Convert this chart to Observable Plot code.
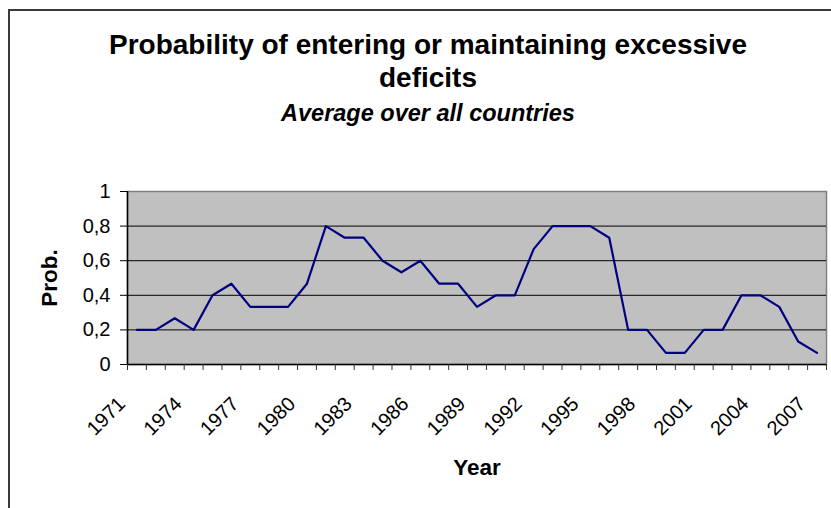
<!DOCTYPE html>
<html><head><meta charset="utf-8">
<script src="https://cdn.jsdelivr.net/npm/d3@7"></script>
<script src="https://cdn.jsdelivr.net/npm/@observablehq/plot@0.6"></script>
<style>
body{margin:0;background:#fff;}
#wrap{position:relative;width:831px;height:508px;overflow:hidden;font-family:"Liberation Sans",Arial,sans-serif;background:#fff;}
#frame{position:absolute;left:8px;top:9px;width:900px;height:600px;border-left:2px solid #3a3a3a;border-top:2px solid #3a3a3a;}
.t{position:absolute;left:8px;width:840px;text-align:center;color:#000;}
#chart{position:absolute;left:0;top:0;}
</style></head><body>
<div id="wrap">
<div id="frame"></div>
<div id="chart"></div>
<div class="t" style="top:28px;font-size:28px;font-weight:bold;line-height:33px;">Probability of entering or maintaining excessive<br>deficits</div>
<div class="t" style="top:99px;font-size:23.5px;line-height:28px;font-weight:bold;font-style:italic;">Average over all countries</div>
</div>
<script>
const years = [1971,1972,1973,1974,1975,1976,1977,1978,1979,1980,1981,1982,1983,1984,1985,1986,1987,1988,1989,1990,1991,1992,1993,1994,1995,1996,1997,1998,1999,2000,2001,2002,2003,2004,2005,2006,2007];
const probs = [0.2,0.2,0.267,0.2,0.4,0.467,0.333,0.333,0.333,0.467,0.8,0.733,0.733,0.6,0.533,0.6,0.467,0.467,0.333,0.4,0.4,0.667,0.8,0.8,0.8,0.733,0.2,0.2,0.067,0.067,0.2,0.2,0.4,0.4,0.333,0.133,0.067];
const yTicks = [0,0.2,0.4,0.6,0.8,1];
const labelYears = [1971,1974,1977,1980,1983,1986,1989,1992,1995,1998,2001,2004,2007];

const data = years.map((y,i)=>({year:y, p:probs[i]}));
const boundaries = [years[0]-0.5, ...years.map(y=>y+0.5)];
const fmt = d => String(d).replace(".", ",");

const chart = Plot.plot({
  width: 831, height: 508,
  marginTop: 191, marginBottom: 144, marginLeft: 127, marginRight: 5,
  style: {fontFamily: '"Liberation Sans", Arial, sans-serif', fontSize: "20px", color: "#000", background: "transparent"},
  x: {type: "linear", domain: [boundaries[0], boundaries[boundaries.length-1]]},
  y: {domain: [0, 1]},
  marks: [
    Plot.frame({fill: "#C0C0C0", stroke: "#808080", strokeWidth: 1.5}),
    Plot.ruleY(yTicks.filter(v => v > 0 && v < 1), {stroke: "#000", strokeWidth: 1}),
    Plot.ruleY([yTicks[0]], {stroke: "#000", strokeWidth: 1.5}),
    Plot.ruleX([boundaries[0]], {stroke: "#000", strokeWidth: 1.5}),
    Plot.line(data, {x: "year", y: "p", stroke: "#000080", strokeWidth: 2.2}),
    Plot.axisY({ticks: yTicks, tickFormat: fmt, tickSize: 7, tickPadding: 10, label: null, fontSize: 20}),
    Plot.axisX({ticks: boundaries, tickFormat: () => "", tickSize: 6, label: null, stroke: "#333"}),
    Plot.text(labelYears, {x: d => d, text: d => String(d), frameAnchor: "bottom", rotate: -45, textAnchor: "end", lineAnchor: "middle", dx: -15, dy: 36, fontSize: 20}),
    Plot.text(["Prob."], {frameAnchor: "left", textAnchor: "middle", lineAnchor: "middle", dx: -78, rotate: -90, fontWeight: "bold", fontSize: 22.5}),
    Plot.text(["Year"], {frameAnchor: "bottom", textAnchor: "middle", lineAnchor: "middle", dy: 103, fontWeight: "bold", fontSize: 22.5})
  ]
});
document.getElementById("chart").appendChild(chart);
</script>
</body></html>
